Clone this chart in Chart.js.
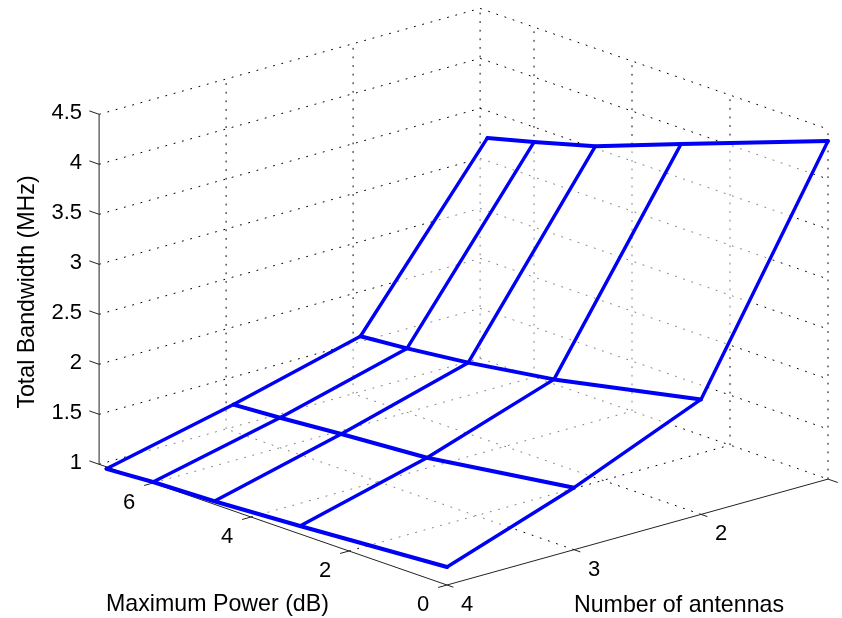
<!DOCTYPE html>
<html>
<head>
<meta charset="utf-8">
<style>html,body{margin:0;padding:0;background:#fff}canvas{display:block}</style>
<script src="https://cdn.jsdelivr.net/npm/chart.js@4"></script>
</head>
<body>
<canvas id="c" width="842" height="618"></canvas>
<script>
// ---- data ----
const antennas = [4, 3, 2, 1];
const powers = [0, 3, 4.75, 6, 6.95];
const bandwidthAnt4 = [1.18, 1.08, 1.03, 1.01, 0.98];
const bandwidthAnt3 = [1.62, 1.41, 1.35, 1.30, 1.27];
const bandwidthAnt2 = [2.15, 1.84, 1.71, 1.64, 1.60];
const bandwidthAnt1 = [4.38, 3.84, 3.52, 3.35, 3.23];
const bandwidth = [bandwidthAnt4, bandwidthAnt3, bandwidthAnt2, bandwidthAnt1];
const zTicks = [1, 1.5, 2, 2.5, 3, 3.5, 4, 4.5];
const zTickLabels = ['1', '1.5', '2', '2.5', '3', '3.5', '4', '4.5'];
const powerTicks = [0, 2, 4, 6];
const antennaTicks = [4, 3, 2];
const powerMax = 7.1, powerMin = 0, antMin = 1, antMax = 4, zMin = 1, zMax = 4.5;
const titleX = 'Maximum Power (dB)', titleY = 'Number of antennas', titleZ = 'Total Bandwidth (MHz)';

// orthographic view of the 3-D axes
function view(a, p, z) {
  return {
    x: 447 + 127 * (4 - a) - 49 * p,
    y: 585 - 35.3 * (4 - a) - 17 * p - 100 * (z - 1)
  };
}
const seg = (pts, extra) => Object.assign({
  data: pts.map(q => view(q[0], q[1], q[2])),
  showLine: true, pointRadius: 0, pointHoverRadius: 0, tension: 0, fill: false, clip: false
}, extra);

const ds = [];
const dotted = { borderColor: '#000', borderWidth: 1, borderDash: [1.8, 6.8], order: 30 };
const solid = { borderColor: '#222', borderWidth: 1, order: 5 };
// walls
zTicks.forEach(z => {
  if (z > zMin) {
    ds.push(seg([[antMax, powerMax, z], [antMin, powerMax, z]], dotted));
    ds.push(seg([[antMin, powerMax, z], [antMin, powerMin, z]], dotted));
  }
});
ds.push(seg([[antMax, powerMax, zMin], [antMin, powerMax, zMin]], dotted));
ds.push(seg([[antMin, powerMax, zMin], [antMin, powerMin, zMin]], dotted));
[3, 2, 1].forEach(a => ds.push(seg([[a, powerMax, zMin], [a, powerMax, zMax]], dotted)));
[6, 4, 2, 0].forEach(p => ds.push(seg([[antMin, p, zMin], [antMin, p, zMax]], dotted)));
// floor
antennaTicks.slice(1).forEach(a => ds.push(seg([[a, powerMin, zMin], [a, powerMax, zMin]], dotted)));
[2, 4, 6].forEach(p => ds.push(seg([[antMax, p, zMin], [antMin, p, zMin]], dotted)));
// translucent surface cells over the grid
for (let i = 0; i < antennas.length - 1; i++) {
  for (let j = 0; j < powers.length - 1; j++) {
    ds.push(seg([
      [antennas[i], powers[j], bandwidth[i][j]],
      [antennas[i + 1], powers[j], bandwidth[i + 1][j]],
      [antennas[i + 1], powers[j + 1], bandwidth[i + 1][j + 1]],
      [antennas[i], powers[j + 1], bandwidth[i][j + 1]],
      [antennas[i], powers[j], bandwidth[i][j]]
    ], { fill: 'shape', backgroundColor: 'rgba(255,255,255,0.5)', borderWidth: 0, borderColor: 'rgba(0,0,0,0)', order: 20 }));
  }
}
// solid axes
ds.push(seg([[antMax, powerMax, zMin], [antMax, powerMin, zMin], [antMin, powerMin, zMin]], solid));
ds.push(seg([[antMax, powerMax, zMin], [antMax, powerMax, zMax]], solid));
zTicks.forEach(z => ds.push(seg([[antMax, powerMax, z], [antMax, powerMax + 0.2, z]], solid)));
powerTicks.forEach(p => ds.push(seg([[antMax, p, zMin], [antMax + 0.07, p, zMin]], solid)));
antennaTicks.forEach(a => ds.push(seg([[a, powerMin, zMin], [a, powerMin - 0.13, zMin]], solid)));
ds.push(seg([[antMin, powerMin, zMin], [antMin, powerMin - 0.2, zMin]], solid));
// blue mesh
const blue = { borderColor: '#0000f5', borderWidth: 3.4, order: 1, borderCapStyle: 'round', borderJoinStyle: 'round' };
antennas.forEach((a, i) => ds.push(seg(powers.map((p, j) => [a, p, bandwidth[i][j]]),
  Object.assign({}, blue, { borderWidth: 4 }))));
powers.forEach((p, j) => ds.push(seg(antennas.map((a, i) => [a, p, bandwidth[i][j]]), blue)));

const FONT = '"Liberation Sans", Arial, sans-serif';
const labels = {
  id: 'labels3d',
  afterDraw(chart) {
    const c = chart.ctx, sx = chart.scales.x, sy = chart.scales.y;
    const at = (a, p, z) => { const v = view(a, p, z); return [sx.getPixelForValue(v.x), sy.getPixelForValue(v.y)]; };
    c.save();
    c.fillStyle = '#000';
    c.textBaseline = 'middle';
    c.font = '22px ' + FONT;
    c.textAlign = 'right';
    zTicks.forEach((z, i) => { const q = at(antMax, powerMax, z); c.fillText(zTickLabels[i], q[0] - 17, q[1] - 1); });
    c.textAlign = 'center';
    powerTicks.forEach(p => { const q = at(antMax, p, zMin); c.fillText(String(p), q[0] - 24, q[1] + 20); });
    antennaTicks.forEach(a => { const q = at(a, powerMin, zMin); c.fillText(String(a), q[0] + 20, q[1] + 20); });
    c.font = '23.2px ' + FONT;
    c.fillText(titleX, sx.getPixelForValue(217.5), sy.getPixelForValue(605));
    c.fillText(titleY, sx.getPixelForValue(679), sy.getPixelForValue(606));
    c.translate(sx.getPixelForValue(28), sy.getPixelForValue(292));
    c.rotate(-Math.PI / 2);
    c.fillText(titleZ, 0, 0);
    c.restore();
  }
};

new Chart(document.getElementById('c'), {
  type: 'scatter',
  data: { datasets: ds },
  plugins: [labels],
  options: {
    responsive: false,
    animation: false,
    layout: { padding: 0 },
    plugins: { legend: { display: false }, tooltip: { enabled: false } },
    events: [],
    scales: {
      x: { type: 'linear', display: false, min: 0, max: 842 },
      y: { type: 'linear', display: false, min: 0, max: 618, reverse: true }
    }
  }
});
</script>
</body>
</html>
